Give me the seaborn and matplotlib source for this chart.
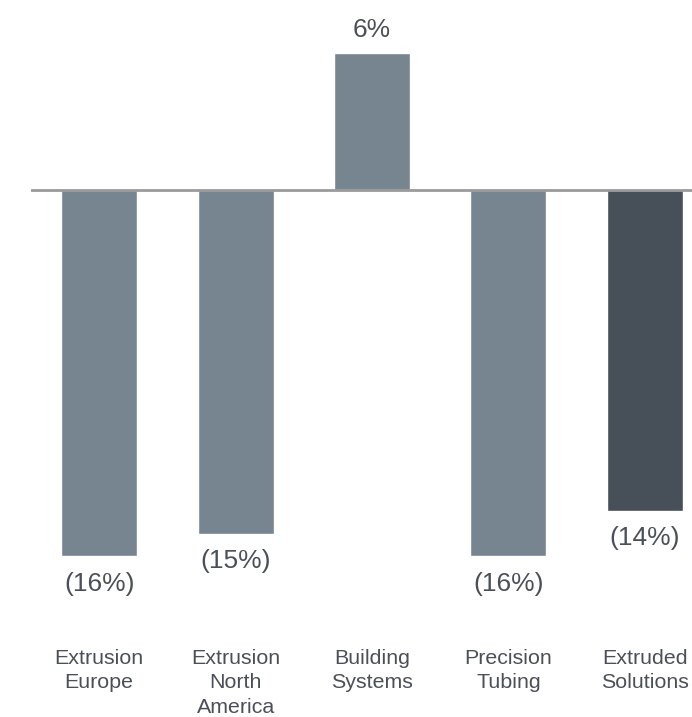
import matplotlib
matplotlib.use("Agg")
import matplotlib.pyplot as plt
import seaborn as sns

categories = ["Extrusion\nEurope", "Extrusion\nNorth\nAmerica", "Building\nSystems",
              "Precision\nTubing", "Extruded\nSolutions"]
values = [-16, -15, 6, -16, -14]
value_labels = ["(16%)", "(15%)", "6%", "(16%)", "(14%)"]
bar_colors = ["#778591", "#778591", "#778591", "#778591", "#474f59"]

sns.set_style("white")
plt.rcParams["font.family"] = ["Liberation Sans", "DejaVu Sans"]

W, H = 692, 717
fig = plt.figure(figsize=(W / 100, H / 100), dpi=100)
ax_bottom_px = 640
ax = fig.add_axes([31 / W, (H - ax_bottom_px) / H, 682 / W, ax_bottom_px / H])

sns.barplot(x=categories, y=values, hue=categories, palette=bar_colors,
            width=0.557, legend=False, ax=ax, saturation=1)

zero_px = 190
ppu = 22.9
ax.set_ylim(-(ax_bottom_px - zero_px) / ppu, zero_px / ppu)
ax.set_xlim(-0.5, 4.5)
ax.axhline(0, color="#9a9a9a", lw=2, zorder=3)

text_color = "#4b5058"
for i, (v, lab) in enumerate(zip(values, value_labels)):
    y = v + 1.0 if v > 0 else v - 1.2
    ax.text(i, y, lab, ha="center", va="center", fontsize=19, color=text_color)

for s in ax.spines.values():
    s.set_visible(False)
ax.set_yticks([])
ax.tick_params(axis="x", length=0, pad=6.5, labelsize=15.4, colors=text_color)
for t in ax.get_xticklabels():
    t.set_linespacing(1.36)
ax.set_xlabel("")
ax.set_ylabel("")

fig.savefig("out.png", dpi=100)
